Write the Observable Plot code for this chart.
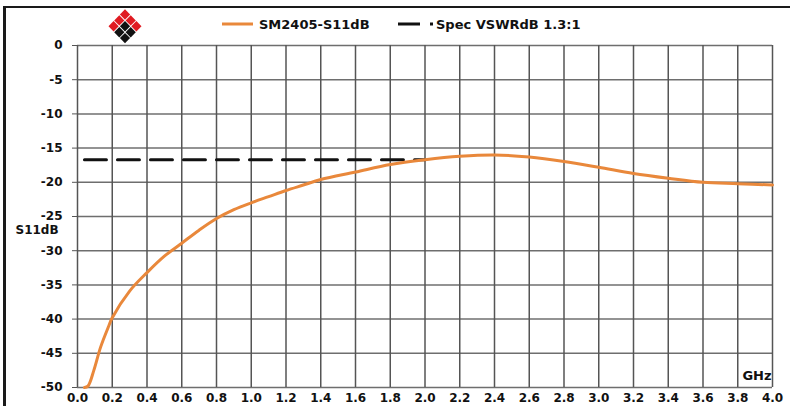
<!DOCTYPE html>
<html>
<head>
<meta charset="utf-8">
<script src="https://cdn.jsdelivr.net/npm/d3@7"></script>
<script src="https://cdn.jsdelivr.net/npm/@observablehq/plot@0.6"></script>
<style>
  html, body { margin: 0; padding: 0; background: #fff; }
  #wrap { position: relative; width: 790px; height: 406px; overflow: hidden; background: #fff; }
  #frame { position: absolute; left: 3px; top: 6px; width: 800px; height: 420px;
           border-top: 2px solid #1a1a1a; border-left: 3px solid #1a1a1a; pointer-events: none; }
  #legend { position: absolute; left: 0; top: 0; }
</style>
</head>
<body>
<div id="wrap"></div>
<script>
// ---- data ----
const freqGHz = [0.04, 0.06, 0.094, 0.133, 0.18, 0.2, 0.3, 0.4, 0.5, 0.6, 0.7, 0.8, 0.9, 1.0, 1.1, 1.2, 1.3, 1.4, 1.6, 1.8, 2.0, 2.2, 2.4, 2.6, 2.8, 3.0, 3.2, 3.4, 3.6, 3.8, 4.0];
const s11dB   = [-50.0, -49.8, -47.5, -44.1, -41.0, -39.8, -35.9, -33.2, -30.8, -28.9, -27.0, -25.3, -24.0, -23.0, -22.1, -21.2, -20.4, -19.6, -18.5, -17.4, -16.7, -16.2, -16.0, -16.3, -16.95, -17.8, -18.7, -19.4, -20.0, -20.2, -20.4];
const specFreq = [0.04, 2.0];
const specDB   = [-16.7, -16.7];
const xTicks = [0.0, 0.2, 0.4, 0.6, 0.8, 1.0, 1.2, 1.4, 1.6, 1.8, 2.0, 2.2, 2.4, 2.6, 2.8, 3.0, 3.2, 3.4, 3.6, 3.8, 4.0];
const yTicks = [0, -5, -10, -15, -20, -25, -30, -35, -40, -45, -50];
const seriesNames = ["SM2405-S11dB", "Spec VSWRdB 1.3:1"];
const yLabel = "S11dB";
const xLabel = "GHz";

const ORANGE = "#E9883B";
const GRID = "#555";

const curveData = freqGHz.map((f, i) => ({f, v: s11dB[i]}));
const specData = specFreq.map((f, i) => ({f, v: specDB[i]}));

const chart = Plot.plot({
  width: 790,
  height: 406,
  marginLeft: 77,
  marginRight: 18,
  marginTop: 45,
  marginBottom: 19,
  style: {background: "white", fontFamily: "DejaVu Sans", fontSize: "12px", fontWeight: "bold", color: "#111"},
  x: {domain: [0, 4]},
  y: {domain: [-50, 0]},
  marks: [
    Plot.gridX(xTicks, {stroke: GRID, strokeOpacity: 1, strokeWidth: 1.5}),
    Plot.gridY(yTicks, {stroke: GRID, strokeOpacity: 0.85, strokeWidth: 1.5}),
    Plot.axisX(xTicks, {tickSize: 0, tickPadding: 6, tickFormat: d => d.toFixed(1), label: null, fill: "#111"}),
    Plot.axisY(yTicks, {tickSize: 5, tickPadding: 10, tickFormat: d => String(d), label: null, stroke: GRID, fill: "#111"}),
    Plot.text([yLabel], {frameAnchor: "left", dx: -62, dy: 14, textAnchor: "start", fill: "#111"}),
    Plot.text([xLabel], {frameAnchor: "bottom-right", dx: -1, dy: -8, textAnchor: "end", fill: "#111", fontSize: 13}),
    Plot.line(specData, {x: "f", y: "v", stroke: "#111", strokeWidth: 3, strokeDasharray: "22,11"}),
    Plot.line(curveData, {x: "f", y: "v", stroke: ORANGE, strokeWidth: 3, curve: "catmull-rom"})
  ]
});

const wrap = document.getElementById("wrap");
wrap.appendChild(chart);

// frame border (cropped outer chart box)
const frame = document.createElement("div");
frame.id = "frame";
wrap.appendChild(frame);

// legend + logo overlay
const svg = d3.select(wrap).append("svg").attr("id", "legend")
  .attr("width", 790).attr("height", 44)
  .style("font-family", "DejaVu Sans").style("font-weight", "bold").style("font-size", "13px");

// logo: 3x3 grid of diamonds rotated 45°, top two edges red
const logoCells = [];
for (let i = 0; i < 3; i++) for (let j = 0; j < 3; j++) logoCells.push({i, j});
svg.append("g").selectAll("path").data(logoCells).join("path")
  .attr("d", d => {
    const cx = 125 + (d.i - d.j) * 5.7, cy = 14.5 + (d.i + d.j) * 5.9, hw = 5.1, hh = 5.2;
    return `M${cx},${cy - hh}L${cx + hw},${cy}L${cx},${cy + hh}L${cx - hw},${cy}Z`;
  })
  .attr("fill", d => (d.i === 0 || d.j === 0) ? "#E01B22" : "#111");

// series 1
svg.append("line").attr("x1", 222).attr("x2", 253).attr("y1", 24).attr("y2", 24)
  .attr("stroke", ORANGE).attr("stroke-width", 3);
svg.append("text").attr("x", 259).attr("y", 24).attr("dy", "0.36em").attr("fill", "#111").text(seriesNames[0]);
// series 2
svg.append("line").attr("x1", 398).attr("x2", 433).attr("y1", 24).attr("y2", 24)
  .attr("stroke", "#111").attr("stroke-width", 3).attr("stroke-dasharray", "22,10");
svg.append("text").attr("x", 436).attr("y", 24).attr("dy", "0.36em").attr("fill", "#111").text(seriesNames[1]);
</script>
</body>
</html>
